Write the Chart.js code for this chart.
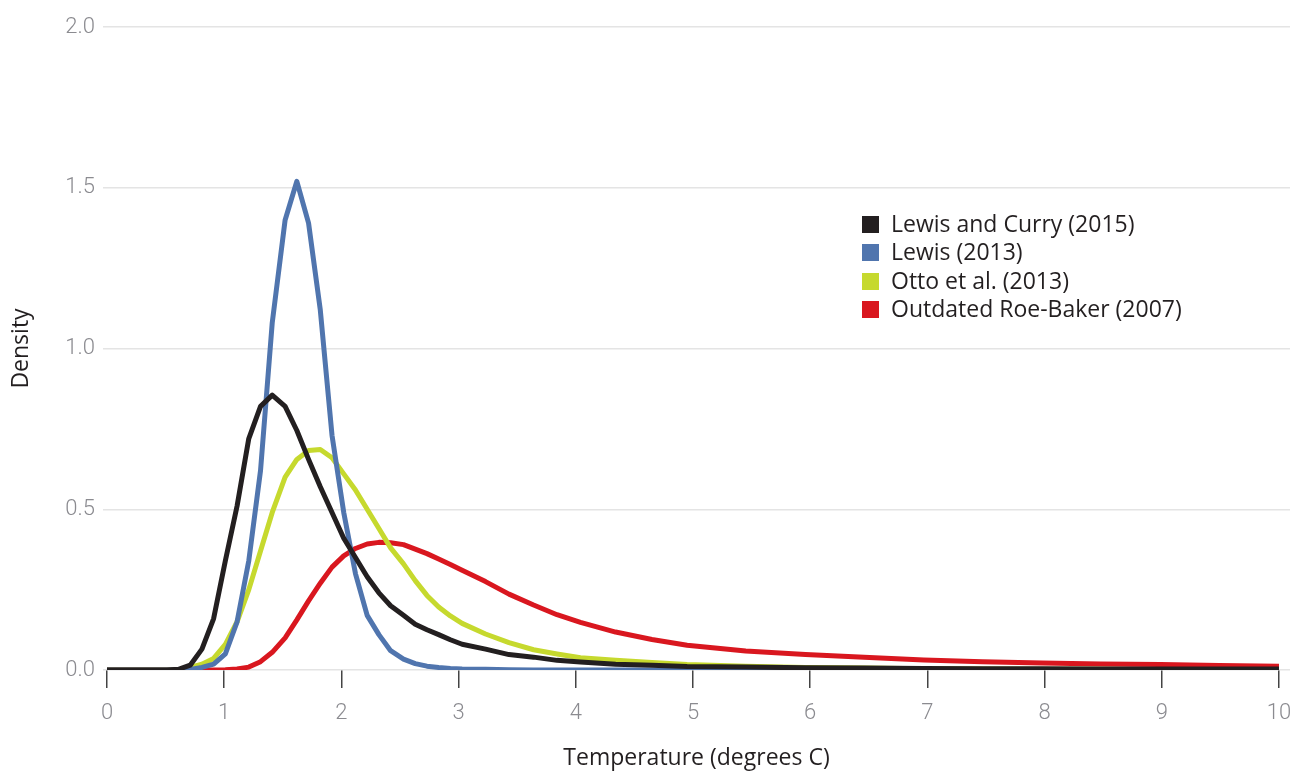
<!DOCTYPE html>
<html>
<head>
<meta charset="utf-8">
<title>Climate sensitivity densities</title>
<script src="https://cdn.jsdelivr.net/npm/chart.js@4.4.1/dist/chart.umd.min.js"></script>
<style>
    html, body { margin: 0; padding: 0; background: #fff; }
    #wrap { position: relative; width: 1294px; height: 772px; }
    #legend {
        position: absolute; left: 862px; top: 209px;
        font-family: "Open Sans", sans-serif; font-size: 23px; color: #231f20;
        line-height: 28.4px;
    }
    #legend .box { display: inline-block; width: 17px; height: 17px; margin-right: 12px; vertical-align: -1px; }
</style>
</head>
<body>
<div id="wrap">
    <canvas id="myChart" width="1294" height="772"></canvas>
    <div id="legend"></div>
</div>
<script>
// temperature grid (degrees C)
var temps = [0, 0.51, 0.61, 0.71, 0.81, 0.91, 1.01, 1.11, 1.21, 1.31, 1.41, 1.52, 1.62, 1.72, 1.82, 1.92,
    2.02, 2.12, 2.22, 2.32, 2.42, 2.53, 2.63, 2.73, 2.83, 2.93, 3.03, 3.23, 3.43, 3.64, 3.84, 4.04,
    4.34, 4.65, 4.95, 5.45, 5.96, 6.46, 6.97, 7.47, 7.98, 8.48, 8.99, 9.49, 10];

var lewisCurry2015 = [0, 0, 0.002, 0.015, 0.065, 0.16, 0.34, 0.51, 0.72, 0.82, 0.855, 0.82, 0.745, 0.655, 0.57, 0.49,
    0.41, 0.35, 0.29, 0.24, 0.2, 0.17, 0.142, 0.125, 0.11, 0.094, 0.08, 0.065, 0.048, 0.04, 0.03, 0.025,
    0.018, 0.015, 0.011, 0.009, 0.007, 0.006, 0.005, 0.004, 0.004, 0.003, 0.003, 0.003, 0.003];

var lewis2013 = [0, 0, 0, 0.002, 0.008, 0.018, 0.05, 0.15, 0.34, 0.62, 1.08, 1.4, 1.52, 1.39, 1.12, 0.73,
    0.49, 0.3, 0.17, 0.11, 0.06, 0.034, 0.02, 0.012, 0.008, 0.005, 0.003, 0.002, 0.001, 0, 0, 0,
    0, 0, 0, 0, 0, 0, 0, 0, 0, 0, 0, 0, 0];

var otto2013 = [0, 0, 0, 0.008, 0.018, 0.036, 0.08, 0.15, 0.25, 0.37, 0.49, 0.6, 0.655, 0.683, 0.686, 0.66,
    0.61, 0.56, 0.5, 0.44, 0.38, 0.33, 0.278, 0.232, 0.196, 0.168, 0.145, 0.112, 0.085, 0.063, 0.05, 0.038,
    0.03, 0.023, 0.017, 0.012, 0.008, 0.006, 0.004, 0.003, 0.002, 0.002, 0.001, 0.001, 0.001];

var roeBaker2007 = [0, 0, 0, 0, 0, 0, 0.001, 0.003, 0.009, 0.026, 0.055, 0.1, 0.156, 0.215, 0.27, 0.32,
    0.355, 0.378, 0.392, 0.397, 0.396, 0.39, 0.376, 0.362, 0.345, 0.328, 0.31, 0.275, 0.236, 0.202, 0.172, 0.148,
    0.118, 0.095, 0.077, 0.059, 0.048, 0.04, 0.031, 0.026, 0.022, 0.019, 0.017, 0.014, 0.012];

var seriesNames = ["Lewis and Curry (2015)", "Lewis (2013)", "Otto et al. (2013)", "Outdated Roe-Baker (2007)"];
var seriesColors = ["#231f20", "#5075ae", "#c6d92e", "#d9171f"];
var seriesValues = [lewisCurry2015, lewis2013, otto2013, roeBaker2007];

var xTicks = [0, 1, 2, 3, 4, 5, 6, 7, 8, 9, 10];
var yTicks = [0, 0.5, 1.0, 1.5, 2.0];

function toPoints(values) {
    return temps.map(function (t, i) { return { x: t, y: values[i] }; });
}

window.onload = function () {
    var ctx = document.getElementById("myChart").getContext("2d");
    var datasets = seriesValues.map(function (vals, i) {
        return {
            label: seriesNames[i],
            data: toPoints(vals),
            borderColor: seriesColors[i],
            backgroundColor: seriesColors[i],
            borderWidth: 5,
            pointRadius: 0,
            tension: 0,
            borderJoinStyle: "round",
            fill: false,
        };
    });

    var myChart = new Chart(ctx, {
        type: "line",
        data: { datasets: datasets },
        options: {
            responsive: false,
            animation: false,
            layout: { padding: { top: 27, right: 4, left: 0, bottom: 0 } },
            plugins: { legend: { display: false }, tooltip: { enabled: false } },
            scales: {
                x: {
                    type: "linear",
                    min: -0.034,
                    max: 10.094,
                    afterBuildTicks: function (scale) {
                        scale.ticks = xTicks.map(function (v) { return { value: v }; });
                    },
                    afterFit: function (scale) {
                        scale.height = 102;
                        scale.paddingLeft = 0;
                        scale.paddingRight = 0;
                    },
                    border: { display: false },
                    grid: { drawOnChartArea: false, drawTicks: true, tickLength: 18, color: "#444", lineWidth: 1.5 },
                    ticks: {
                        color: "#8b8b90",
                        font: { family: "Roboto", size: 22, weight: "300" },
                        padding: 12,
                        callback: function (v) { return String(v); },
                    },
                    title: {
                        display: true,
                        text: "Temperature (degrees C)",
                        color: "#231f20",
                        font: { family: "Open Sans", size: 23 },
                        padding: { top: 2, bottom: 0 },
                    },
                },
                y: {
                    min: 0,
                    max: 2.0,
                    afterBuildTicks: function (scale) {
                        scale.ticks = yTicks.map(function (v) { return { value: v }; });
                    },
                    afterFit: function (scale) { scale.width = 103; },
                    border: { display: false },
                    grid: { color: "#e4e4e4", lineWidth: 1.5, drawTicks: false },
                    ticks: {
                        color: "#8b8b90",
                        font: { family: "Roboto", size: 22, weight: "300" },
                        padding: 8,
                        callback: function (v) { return v.toFixed(1); },
                    },
                    title: {
                        display: true,
                        text: "Density",
                        color: "#231f20",
                        font: { family: "Open Sans", size: 23 },
                        padding: { top: 8, bottom: 0 },
                    },
                },
            },
        },
    });

    var legend = document.getElementById("legend");
    myChart.data.datasets.forEach(function (ds) {
        var row = document.createElement("div");
        var box = document.createElement("span");
        box.className = "box";
        box.style.background = ds.borderColor;
        row.appendChild(box);
        row.appendChild(document.createTextNode(ds.label));
        legend.appendChild(row);
    });
};
</script>
</body>
</html>
